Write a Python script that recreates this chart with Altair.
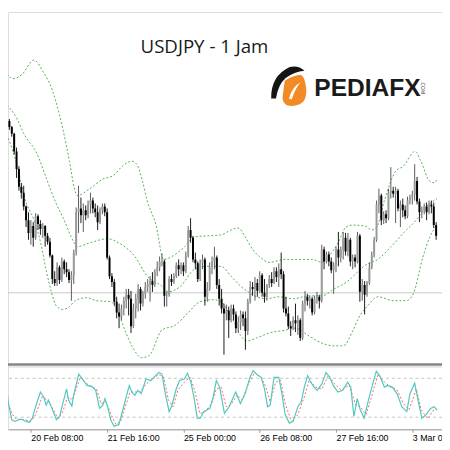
import altair as alt
import pandas as pd

# Hourly USDJPY bars; bar 0 = 19 Feb 22:00, weekend skipped
closes = [150.81,150.75,150.68,150.50,150.32,150.14,150.08,149.94,149.80,149.67,
149.74,149.62,149.84,149.76,149.71,149.74,149.64,149.58,149.44,149.20,
149.16,149.32,149.19,149.38,149.30,149.27,149.19,149.24,149.47,149.88,
149.92,149.85,149.90,149.85,149.96,150.00,149.92,149.88,149.78,149.90,
149.94,149.88,149.42,149.23,149.17,148.97,148.86,148.82,148.90,148.98,
149.04,149.00,148.72,148.90,149.00,149.10,148.95,149.05,149.12,149.15,
149.18,149.14,149.28,149.32,149.38,149.38,149.03,149.04,149.20,149.17,
149.23,149.34,149.30,149.34,149.28,149.44,149.70,149.62,149.40,149.36,
149.20,149.36,149.40,149.02,149.10,149.32,149.38,149.42,149.14,149.00,
148.90,148.85,148.88,148.78,148.90,148.84,148.70,148.76,148.84,148.80,
148.67,148.97,149.12,149.10,149.16,149.08,149.24,149.06,149.02,149.14,
149.20,149.16,149.28,149.22,149.30,149.25,148.90,148.85,148.72,148.70,
148.78,148.75,148.78,148.60,148.95,149.02,148.98,149.00,148.86,149.00,
149.02,148.98,149.50,149.38,149.45,149.38,149.29,149.34,149.50,149.42,
149.50,149.62,149.48,149.60,149.38,149.42,149.38,149.64,149.07,149.14,
149.04,149.16,149.32,149.44,149.60,149.96,150.05,149.80,149.86,149.82,
150.08,150.10,150.07,150.10,149.92,149.96,149.90,149.84,150.00,150.03,
150.06,150.20,149.99,149.88,149.90,149.94,149.88,149.96,149.94,149.75,
149.64]

highs = [150.88,150.83,150.76,150.69,150.54,150.35,150.18,150.15,149.95,149.88,
149.80,149.78,149.87,149.86,149.80,149.77,149.75,149.67,149.62,149.45,
149.28,149.37,149.34,149.42,149.40,149.37,149.30,149.28,149.50,149.93,
150.15,150.03,149.97,149.95,150.00,150.08,150.03,149.97,149.95,149.93,
149.97,149.97,149.92,149.44,149.26,149.20,149.02,148.95,148.94,149.02,
149.10,149.10,149.08,148.95,149.05,149.15,149.12,149.08,149.17,149.20,
149.23,149.27,149.30,149.38,149.43,149.46,149.40,149.07,149.23,149.25,
149.26,149.37,149.40,149.37,149.37,149.48,149.74,149.82,149.64,149.47,
149.38,149.40,149.45,149.42,149.17,149.37,149.43,149.53,149.44,149.20,
149.10,148.95,148.94,148.92,148.94,148.94,148.87,148.82,148.88,148.87,
148.87,149.00,149.18,149.17,149.22,149.20,149.28,149.26,149.20,149.15,
149.24,149.27,149.32,149.32,149.36,149.47,149.28,149.02,148.92,148.77,
148.82,148.95,148.83,148.80,148.98,149.08,149.05,149.03,149.02,149.03,
149.07,149.04,149.55,149.53,149.48,149.48,149.42,149.37,149.53,149.68,
149.53,149.68,149.67,149.67,149.62,149.45,149.45,149.68,149.66,149.20,
149.18,149.18,149.37,149.48,149.63,150.00,150.12,150.07,149.89,149.90,
150.12,150.34,150.14,150.14,150.12,150.00,150.02,149.95,150.04,150.06,
150.10,150.37,150.24,150.02,149.94,149.97,149.98,150.00,150.00,149.98,
149.78]

lows = [150.76,150.72,150.65,150.47,150.23,150.10,150.02,149.90,149.73,149.60,
149.55,149.53,149.60,149.70,149.65,149.62,149.53,149.55,149.42,149.15,
149.13,149.13,149.15,149.17,149.25,149.22,149.16,148.98,149.15,149.44,
149.67,149.77,149.68,149.80,149.82,149.87,149.87,149.83,149.70,149.76,
149.86,149.84,149.40,149.20,149.12,148.93,148.80,148.70,148.78,148.83,
148.90,148.83,148.65,148.70,148.80,148.87,148.88,148.92,149.00,149.07,
148.97,149.07,149.12,149.23,149.28,149.33,148.92,148.92,149.02,149.13,
149.15,149.21,149.23,149.25,149.23,149.26,149.42,149.57,149.37,149.30,
149.17,149.18,149.30,148.93,148.97,149.08,149.25,149.30,149.10,148.93,
148.85,148.43,148.78,148.60,148.76,148.78,148.65,148.65,148.68,148.72,
148.48,148.63,148.95,149.03,148.98,149.02,149.06,149.02,148.96,148.98,
149.11,149.12,149.15,149.17,149.12,149.20,148.86,148.82,148.69,148.62,
148.68,148.66,148.63,148.57,148.58,148.87,148.93,148.90,148.83,148.84,
148.95,148.90,148.96,149.30,149.36,149.33,149.26,149.05,149.27,149.33,
149.37,149.40,149.44,149.43,149.33,149.30,149.32,149.36,148.97,148.98,
148.84,149.02,149.14,149.30,149.42,149.58,149.87,149.75,149.76,149.77,
149.80,150.02,150.03,149.77,149.89,149.73,149.83,149.81,149.82,149.96,
149.96,150.00,149.96,149.78,149.82,149.86,149.80,149.86,149.87,149.72,
149.60]

first_open = 150.86

# Bollinger bands read at sample bars
upper_bar = [0,2.5,6.1,11.3,15.4,18.6,20.6,23.4,26.2,28.2,29.4,34.7,40.3,44.3,48.4,52.4,54.4,56.8,58.8,62.5,65.7,70.5,74.5,78.6,84,89.8,93.9,97,99.9,103.1,105.9,109.9,116.8,120,128,132.1,134.9,138.9,142.2,145,150.2,153,155.1,158.3,163.1,166.3,171.1,173.6,177.2,179.2,180.4]
upper_val = [151.29,151.24,151.28,151.43,151.30,151.15,151.00,150.73,150.40,150.13,150.05,150.12,150.22,150.25,150.35,150.40,150.37,150.20,150.00,149.75,149.40,149.45,149.53,149.63,149.64,149.65,149.70,149.72,149.63,149.50,149.43,149.37,149.40,149.40,149.40,149.37,149.43,149.57,149.73,149.75,149.74,149.70,149.73,150.00,150.30,150.35,150.50,150.40,150.20,150.18,150.22]
middle_bar = [0,3.3,7.3,12.5,16.6,20.6,23.4,28.2,29.4,34.7,42.3,46.8,53.6,58.8,64.9,67.7,72.9,78.6,83.8,89.8,93.9,97.9,101.1,104.7,108.8,114,120,126.9,132.1,137.3,143,147,150.2,155.5,161.1,166.3,171.6,175.6,180.4]
middle_val = [150.97,150.87,150.67,150.48,150.22,149.97,149.83,149.57,149.53,149.57,149.61,149.57,149.43,149.23,149.13,149.07,149.13,149.30,149.33,149.33,149.23,149.13,149.07,149.02,149.00,149.02,149.00,149.03,149.03,149.10,149.18,149.27,149.34,149.40,149.53,149.67,149.80,149.93,150.02]
lower_bar = [0,4.5,7.3,11.3,14.1,16.6,18.6,20.6,23.4,26.2,28.6,33.5,37.5,43.5,46.4,49.6,52.8,56.4,59.6,64.9,70.5,75.7,81,86.6,89.8,92.7,95.1,97.9,100.7,104.7,109.9,116.8,120.8,126.1,130.1,137.3,141,145,147.4,151.4,155.5,162.3,167.5,170.4,174.4,177.2,180.4]
lower_val = [150.67,150.33,150.03,149.80,149.57,149.27,149.07,148.93,148.89,148.92,148.98,149.01,148.98,148.97,148.87,148.67,148.50,148.40,148.42,148.68,148.73,148.85,148.97,148.99,148.97,148.87,148.77,148.63,148.57,148.60,148.65,148.68,148.70,148.63,148.57,148.52,148.52,148.67,148.80,148.93,149.02,148.98,148.98,149.05,149.42,149.62,149.75]

# Stochastic oscillator (main and signal) read at sample bars
stoch_main_bar = [0,0.6,2.0,3.3,5.3,6.6,8.0,9.3,10.6,12.0,14.0,15.4,16.4,17.4,19.4,20.7,22.1,23.4,25.0,25.8,27.2,28.1,30.1,32.1,33.5,35.5,37.2,38.8,40.2,41.1,42.2,43.5,44.9,46.9,48.2,50.0,51.3,52.3,53.6,54.9,56.3,58.3,60.3,62.3,63.7,65.0,66.4,68.0,69.0,71.0,72.4,74.4,75.7,77.1,78.4,79.8,81.1,82.5,85.1,86.5,87.8,89.2,91.2,93.2,95.9,97.9,99.9,101.9,103.2,105.3,106.6,108.0,109.3,110.4,112.0,114.0,115.3,116.7,118.4,120.0,122.0,123.4,124.7,126.1,127.4,128.8,130.1,132.1,133.8,135.4,136.8,138.8,140.8,142.9,144.2,145.5,146.9,148.2,149.8,151.6,153.6,154.9,156.3,158.3,159.6,161.6,163.6,165.6,167.7,169.0,171.0,172.4,174.0,175.7,177.7,179.1,180.4]
stoch_main_val = [61.4,41.2,16.1,13.5,17.0,16.1,13.5,12.0,18.5,36.2,58.8,51.3,38.7,46.3,28.6,16.1,21.1,41.2,63.8,46.3,37.2,56.3,86.5,76.5,69.0,67.5,61.4,33.6,38.7,48.7,36.2,16.1,6.0,8.5,26.1,51.3,69.0,58.8,53.9,61.4,56.3,78.9,76.5,84.1,89.1,86.5,56.3,28.6,36.2,63.8,76.5,78.9,87.6,74.0,51.3,18.5,18.5,28.6,33.6,51.3,76.5,66.4,26.1,36.2,58.8,41.2,56.3,81.5,91.6,84.1,81.5,63.8,36.2,38.7,81.5,81.5,56.3,23.6,10.9,13.5,36.2,43.7,66.4,84.1,74.0,66.4,61.4,71.4,89.1,81.5,69.0,58.8,61.4,74.0,66.4,21.1,48.7,31.2,18.5,46.3,74.0,90.6,84.1,66.4,69.0,66.4,56.3,36.2,28.6,56.3,72.4,46.3,18.5,23.6,33.6,36.2,31.2]
stoch_sig_bar = [0,2.0,4.0,7.3,10.0,12.0,14.7,16.7,18.7,21.4,23.4,25.4,27.4,28.8,30.8,32.8,34.8,37.5,39.5,41.5,43.5,45.6,47.6,49.6,51.6,53.6,55.6,58.3,61.0,63.7,65.7,67.7,69.7,71.7,74.4,76.8,78.7,80.9,83.1,85.8,87.8,89.8,91.9,93.9,96.6,98.6,101.2,103.9,106.6,108.6,110.4,112.7,114.7,116.7,119.3,122.0,124.7,126.8,129.4,132.1,134.8,137.5,140.2,143.5,146.2,148.2,150.6,152.9,155.6,158.3,161.0,163.6,166.3,168.6,171.7,173.7,176.4,179.1,180.4]
stoch_sig_val = [46.8,25.6,16.5,16.5,13.5,24.1,51.3,46.8,36.2,18.0,28.6,51.3,46.8,61.9,81.5,74.0,67.9,63.4,40.7,43.7,25.6,9.0,13.5,36.2,58.8,58.8,58.8,70.9,78.5,86.0,81.5,46.8,36.2,61.9,74.0,81.5,61.9,25.6,28.6,40.7,63.4,66.4,36.2,39.2,54.3,46.8,70.9,89.1,81.5,66.4,43.7,74.0,77.0,40.7,13.5,24.1,51.3,77.0,66.4,63.4,84.5,70.9,61.9,69.4,39.2,36.2,24.1,51.3,86.0,74.0,66.4,61.9,40.7,31.6,63.4,31.6,18.0,31.6,31.6]

tick_bars = [10, 42, 74, 106, 138, 170]
tick_labels = ["20 Feb 08:00", "21 Feb 16:00", "25 Feb 00:00", "26 Feb 08:00", "27 Feb 16:00", "3 Mar 00:00"]
level_price = [149.06]
stoch_levels = [20, 80]
title_text = "USDJPY - 1 Jam"

# ---------------- tables ----------------
opens = [first_open] + closes[:-1]
candles = pd.DataFrame({"bar": list(range(len(closes))), "open": opens, "high": highs,
                        "low": lows, "close": closes})
bands = pd.concat([
    pd.DataFrame({"bar": upper_bar, "p": upper_val, "band": "upper"}),
    pd.DataFrame({"bar": middle_bar, "p": middle_val, "band": "middle"}),
    pd.DataFrame({"bar": lower_bar, "p": lower_val, "band": "lower"}),
])
smain = pd.DataFrame({"bar": stoch_main_bar, "v": stoch_main_val})
ssig = pd.DataFrame({"bar": stoch_sig_bar, "v": stoch_sig_val})

W, H = 442, 425
xscale = alt.Scale(domain=[2.47, 180.4], nice=False, zero=False)
pscale = alt.Scale(domain=[148.34, 151.92], range=[358, 0], nice=False, zero=False)
sscale = alt.Scale(domain=[0, 100], range=[425.9, 359.8], nice=False, zero=False)

arr = "[" + ",".join(f"'{t}'" for t in tick_labels) + "]"
vals = "[" + ",".join(str(v) for v in tick_bars) + "]"
xaxis = alt.Axis(values=tick_bars, labelExpr=f"{arr}[indexof({vals}, datum.value)]",
                 title=None, grid=False, domainColor="#9a9a9a", tickColor="#9a9a9a",
                 tickSize=3, labelFont="Liberation Sans", labelFontSize=9,
                 labelColor="#000000", labelAlign="left", labelPadding=1,
                 labelFlush=False, labelOverlap=False, labelBound=False)

def X():
    return alt.X("bar:Q", scale=xscale, axis=xaxis)

level = alt.Chart(pd.DataFrame({"p": level_price})).mark_rule(
    color="#c8c8c8", strokeWidth=1).encode(y=alt.Y("p:Q", scale=pscale, axis=None))

band_lines = alt.Chart(bands).mark_line(
    color="#4fb24f", strokeDash=[2, 2], strokeWidth=1, interpolate="monotone", clip=True
).encode(x=X(), y=alt.Y("p:Q", scale=pscale, axis=None), detail="band:N")

bull = alt.datum.close >= alt.datum.open
wicks = alt.Chart(candles).mark_rule(strokeWidth=1, clip=True).encode(
    x=X(), y=alt.Y("low:Q", scale=pscale, axis=None), y2="high:Q",
    color=alt.condition(bull, alt.value("#5a5a5a"), alt.value("#1a1a1a")))

bodies = alt.Chart(candles).mark_bar(width=2, clip=True).encode(
    x=X(), y=alt.Y("open:Q", scale=pscale, axis=None), y2="close:Q",
    color=alt.condition(bull, alt.value("#9a9a9a"), alt.value("#000000")))

slevels = alt.Chart(pd.DataFrame({"v": stoch_levels})).mark_rule(
    color="#c4c4c4", strokeDash=[3, 3], strokeWidth=1).encode(
    y=alt.Y("v:Q", scale=sscale, axis=None))

sig_line = alt.Chart(ssig).mark_line(color="#f26a6a", strokeDash=[2, 2], strokeWidth=1,
                                     clip=True).encode(
    x=X(), y=alt.Y("v:Q", scale=sscale, axis=None))
main_line = alt.Chart(smain).mark_line(color="#4fc8c0", strokeWidth=1.2, clip=True).encode(
    x=X(), y=alt.Y("v:Q", scale=sscale, axis=None))

one = pd.DataFrame({"a": [0]})
sep1 = alt.Chart(one).mark_rule(color="#858585", strokeWidth=2.5).encode(
    x=alt.value(0), x2=alt.value(W), y=alt.value(359))
sep2 = alt.Chart(one).mark_rule(color="#d2d2d2", strokeWidth=1).encode(
    x=alt.value(0), x2=alt.value(W), y=alt.value(361.5))

title = alt.Chart(one).mark_text(text=title_text, font="Open Sans", fontSize=19,
                                 align="left", baseline="alphabetic", color="#1a1a1a").encode(
    x=alt.value(135), y=alt.value(41.3))

orange_path = ("M -0.14 -0.27 Q 0.2 -0.5 0.59 -0.55 Q 0.8 -0.5 0.86 0.18 "
               "Q 0.85 0.7 0.55 0.82 Q 0.2 0.95 -0.05 0.86 Q -0.3 0.7 -0.23 0.36 Z")
black_path = ("M -0.77 0.55 Q -0.8 -0.5 0.09 -0.91 Q 0.5 -1 0.77 -0.73 "
              "Q 0.3 -0.68 -0.1 -0.4 Q -0.45 -0.1 -0.55 0.55 Z")
white_path = ("M 0.05 0.55 Q 0.2 0.0 0.6 -0.2 Q 0.35 0.05 0.18 0.6 Z")
icon_o = alt.Chart(one).mark_point(shape=orange_path, size=1936, filled=True,
                                   color="#f28a25", opacity=1).encode(
    x=alt.value(285), y=alt.value(76))
icon_b = alt.Chart(one).mark_point(shape=black_path, size=1936, filled=True,
                                   color="#141414", opacity=1).encode(
    x=alt.value(285), y=alt.value(76))
icon_w = alt.Chart(one).mark_point(shape=white_path, size=1936, filled=True,
                                   color="#ffffff", opacity=1).encode(
    x=alt.value(285), y=alt.value(76))
logo_text = alt.Chart(one).mark_text(text="PEDIAFX", font="Liberation Sans", fontWeight="bold",
                                     fontSize=25, align="left", baseline="alphabetic",
                                     color="#1a1a1a").encode(
    x=alt.value(312), y=alt.value(86))
logo_com = alt.Chart(one).mark_text(text=".COM", font="Liberation Sans", fontSize=5,
                                    angle=90, align="center", baseline="middle",
                                    color="#333333").encode(
    x=alt.value(423), y=alt.value(77))

chart = alt.layer(
    level, band_lines, wicks, bodies, slevels, sig_line, main_line, sep1, sep2,
    title, icon_o, icon_b, icon_w, logo_text, logo_com
).resolve_scale(y="independent").properties(
    width=W, height=H,
    autosize=alt.AutoSizeParams(type="none"),
    padding={"left": 0, "top": 0, "right": 0, "bottom": 17},
).configure_view(stroke=None).configure(background="#ffffff")

chart.save("out.html", embed_options={"renderer": "svg", "actions": False})
